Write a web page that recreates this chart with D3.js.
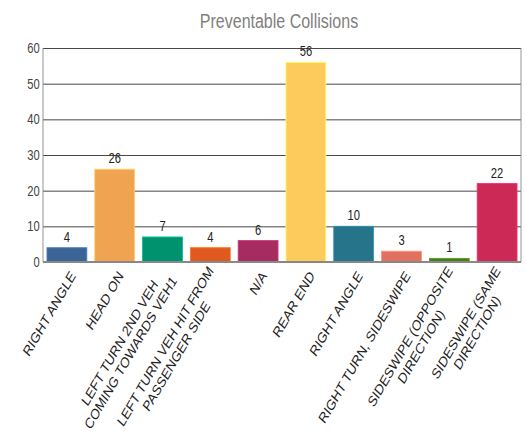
<!DOCTYPE html>
<html>
<head>
<meta charset="utf-8">
<script src="https://cdn.jsdelivr.net/npm/d3@7"></script>
<style>
  body { margin: 0; background: #fff; }
  svg { display: block; font-family: 'Liberation Sans', Arial, sans-serif; }
</style>
</head>
<body>
<div id="chart"></div>
<script>
// data
const categories = [
  'RIGHT ANGLE',
  'HEAD ON',
  'LEFT TURN 2ND VEH\nCOMING TOWARDS VEH1',
  'LEFT TURN VEH HIT FROM\nPASSENGER SIDE',
  'N/A',
  'REAR END',
  'RIGHT ANGLE',
  'RIGHT TURN, SIDESWIPE',
  'SIDESWIPE (OPPOSITE\nDIRECTION)',
  'SIDESWIPE (SAME\nDIRECTION)'
]
const values = [4, 26, 7, 4, 6, 56, 10, 3, 1, 22]
const colors = ['#3b6597', '#f0a351', '#00926e', '#e05a1f', '#a62b61',
  '#fdcb5c', '#26748a', '#e2705f', '#4a7b1c', '#cc2957']
const yTicks = [0, 10, 20, 30, 40, 50, 60]
const title = 'Preventable Collisions'

const W = 526, H = 431
// the reference looks squeezed horizontally, so draw in a wider space and scale x
const sx = 0.8
const plotLeft = 43 / sx, plotRight = 521 / sx, plotTop = 48, plotBottom = 262

const svg = d3.select('#chart').append('svg')
  .attr('width', W)
  .attr('height', H)

const g = svg.append('g').attr('transform', `scale(${sx},1)`)

const x = d3.scaleBand()
  .domain(d3.range(categories.length))
  .range([plotLeft, plotRight])
  .paddingInner(0.165)
  .paddingOuter(0.0825)

const y = d3.scaleLinear().domain([0, 60]).range([plotBottom, plotTop])

// title
g.append('text')
  .attr('x', 279 / sx)
  .attr('y', 28)
  .attr('text-anchor', 'middle')
  .attr('font-size', '20px')
  .attr('fill', '#808080')
  .text(title)

// y axis with gridlines
const yAxis = g.append('g')
  .attr('transform', `translate(${plotLeft},0)`)
  .call(d3.axisLeft(y).tickValues(yTicks).tickSize(-(plotRight - plotLeft)).tickPadding(4))
yAxis.select('.domain').remove()
yAxis.selectAll('.tick line').attr('stroke', '#333').attr('stroke-width', 1)
yAxis.selectAll('.tick text')
  .attr('font-size', '14px')
  .attr('fill', '#444')
  .attr('font-family', "'Liberation Sans', Arial, sans-serif")

// frame sides
g.append('line')
  .attr('x1', plotLeft).attr('x2', plotLeft).attr('y1', plotTop).attr('y2', plotBottom)
  .attr('stroke', '#888')
g.append('line')
  .attr('x1', plotRight).attr('x2', plotRight).attr('y1', plotTop).attr('y2', plotBottom)
  .attr('stroke', '#888')

// bars
g.append('g').selectAll('rect')
  .data(values)
  .join('rect')
  .attr('x', (d, i) => x(i))
  .attr('y', d => y(d))
  .attr('width', x.bandwidth())
  .attr('height', d => y(0) - y(d))
  .attr('fill', (d, i) => colors[i])
  .attr('stroke', (d, i) => d3.color(colors[i]).brighter(0.7))
  .attr('stroke-width', 1)

// bottom axis line
g.append('line')
  .attr('x1', plotLeft).attr('x2', plotRight).attr('y1', plotBottom).attr('y2', plotBottom)
  .attr('stroke', '#888').attr('stroke-width', 2)

// value labels
g.append('g').selectAll('text')
  .data(values)
  .join('text')
  .attr('x', (d, i) => x(i) + x.bandwidth() / 2)
  .attr('y', d => y(d) - 6)
  .attr('text-anchor', 'middle')
  .attr('font-size', '14px')
  .attr('fill', '#222')
  .text(d => d)

// rotated category labels, lines centred on each other, block ends under the bar
const angle = -54
const lh = 17
const labels = g.append('g').selectAll('g')
  .data(categories)
  .join('g')
  .attr('transform', (d, i) =>
    `translate(${x(i) + x.bandwidth() / 2 + 6 / sx},${plotBottom + 11}) rotate(${angle})`)

labels.each(function (d) {
  const lines = d.split('\n')
  const el = d3.select(this)
  const texts = el.selectAll('text')
    .data(lines)
    .join('text')
    .attr('font-size', '15px')
    .attr('fill', '#222')
    .attr('text-anchor', 'middle')
    .attr('dy', '0.35em')
    .attr('y', (l, j) => (j - (lines.length - 1) / 2) * lh)
    .text(l => l)
  let maxW = 0
  texts.each(function () { maxW = Math.max(maxW, this.getComputedTextLength()) })
  texts.attr('x', -maxW / 2)
})
</script>
</body>
</html>
